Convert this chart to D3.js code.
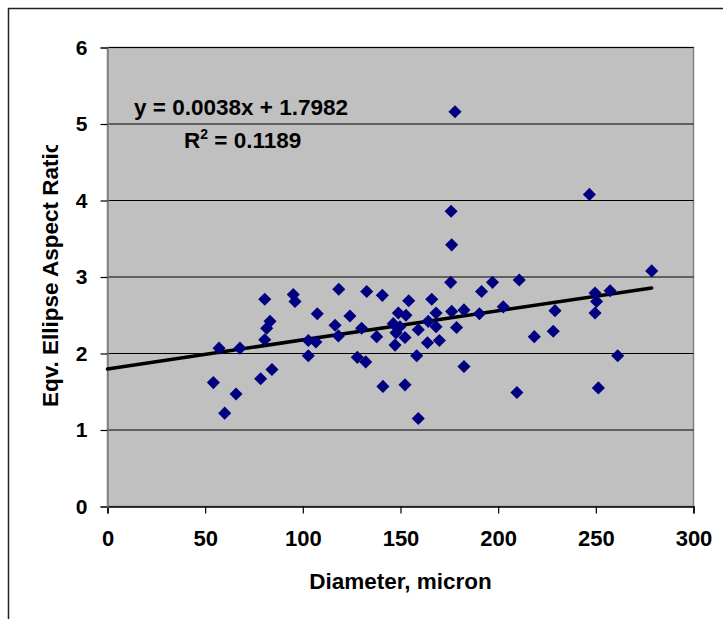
<!doctype html>
<html>
  <head>
    <meta charset="utf-8">
    <title>Aspect ratio vs diameter</title>
    <script src="https://cdnjs.cloudflare.com/ajax/libs/d3/7.8.5/d3.min.js"></script>
    <style>
      body { margin: 0; background: #fff; }
      text { font-family: "Liberation Sans", Arial, sans-serif; font-weight: bold; fill: #000; }
    </style>
  </head>
  <body>
    <div id="chart"></div>
    <script>
      // data
      const diameter = [54.2, 57.1, 60.0, 65.8, 67.8, 78.4, 80.5, 80.5, 81.5, 83.2,
                        84.2, 95.1, 96.0, 102.8, 102.8, 106.7, 107.4, 116.5, 118.2, 118.4,
                        124.1, 127.9, 130.1, 132.2, 132.7, 137.8, 141.0, 140.7, 148.9, 152.8,
                        146.3, 149.7, 147.7, 147.2, 152.3, 152.3, 154.2, 158.3, 159.1, 159.1,
                        163.8, 164.2, 166.0, 168.2, 168.2, 169.9, 175.7, 176.2, 178.7, 176.2,
                        175.9, 177.9, 182.5, 182.5, 190.4, 191.5, 197.1, 202.6, 209.6, 210.8,
                        218.5, 228.2, 229.1, 246.7, 249.6, 250.4, 249.6, 251.3, 257.3, 261.2,
                        278.6];
      const ratio = [1.62, 2.07, 1.22, 1.47, 2.07, 1.67, 2.71, 2.18, 2.33, 2.42,
                     1.79, 2.77, 2.68, 2.17, 1.97, 2.15, 2.52, 2.37, 2.23, 2.84,
                     2.49, 1.95, 2.33, 1.89, 2.81, 2.22, 1.57, 2.76, 2.53, 2.50,
                     2.39, 2.35, 2.27, 2.11, 2.21, 1.59, 2.69, 1.97, 1.15, 2.31,
                     2.14, 2.42, 2.71, 2.53, 2.35, 2.17, 2.93, 2.55, 2.34, 3.42,
                     3.86, 5.16, 2.57, 1.83, 2.52, 2.81, 2.93, 2.61, 1.49, 2.96,
                     2.22, 2.29, 2.56, 4.08, 2.79, 2.68, 2.53, 1.55, 2.82, 1.97,
                     3.08];
      const xTicks = [0, 50, 100, 150, 200, 250, 300];
      const yTicks = [0, 1, 2, 3, 4, 5, 6];
      const trendSlope = 0.0038, trendIntercept = 1.7982;
      const trendLabel = 'y = 0.0038x + 1.7982';
      const r2Value = '0.1189';

      const points = diameter.map((d, i) => ({x: d, y: ratio[i]}));

      const svg = d3.select('#chart').append('svg')
        .attr('width', 723)
        .attr('height', 619);

      // outer chart frame (cut off on the right and bottom)
      svg.append('path')
        .attr('d', 'M8.5,619 V8.5 H723')
        .attr('fill', 'none')
        .attr('stroke', '#222')
        .attr('stroke-width', 1.5);

      const x = d3.scaleLinear().domain([0, 300]).range([107.5, 693.5]);
      const y = d3.scaleLinear().domain([0, 6]).range([506.5, 47.5]);

      // plot area
      svg.append('rect')
        .attr('x', x(0)).attr('y', y(6))
        .attr('width', x(300) - x(0)).attr('height', y(0) - y(6))
        .attr('fill', '#c0c0c0')
        .attr('stroke', '#808080')
        .attr('stroke-width', 1.5);

      // gridlines
      svg.selectAll('.grid')
        .data(yTicks.filter(d => d > 0))
        .join('line')
        .attr('class', 'grid')
        .attr('x1', x(0)).attr('x2', x(300))
        .attr('y1', d => y(d)).attr('y2', d => y(d))
        .attr('stroke', '#000')
        .attr('stroke-width', 1.2);

      // axes
      const xAxis = svg.append('g')
        .attr('transform', `translate(0,${y(0)})`)
        .call(d3.axisBottom(x).tickValues(xTicks).tickSize(7).tickPadding(17));
      xAxis.select('.domain').attr('stroke', '#000').attr('stroke-width', 1.5);
      xAxis.selectAll('.tick line').attr('stroke', '#000').attr('stroke-width', 1.2);
      xAxis.selectAll('text').style('font-size', '22px').attr('fill', '#000');

      const yAxis = svg.append('g')
        .attr('transform', `translate(${x(0)},0)`)
        .call(d3.axisLeft(y).tickValues(yTicks).tickFormat(d3.format('d')).tickSize(7).tickPadding(13));
      yAxis.select('.domain').attr('stroke', '#808080').attr('stroke-width', 1.5);
      yAxis.selectAll('.tick line').attr('stroke', '#000').attr('stroke-width', 1.2);
      yAxis.selectAll('text').style('font-size', '21px').attr('fill', '#000');

      // linear trendline
      const xMax = d3.max(diameter);
      svg.append('line')
        .attr('x1', x(0)).attr('y1', y(trendIntercept))
        .attr('x2', x(xMax)).attr('y2', y(trendIntercept + trendSlope * xMax))
        .attr('stroke', '#000')
        .attr('stroke-width', 3.5)
        .attr('stroke-linecap', 'round');

      // diamonds
      svg.selectAll('.pt')
        .data(points)
        .join('path')
        .attr('class', 'pt')
        .attr('d', d3.symbol().type(d3.symbolSquare).size(86))
        .attr('transform', d => `translate(${x(d.x)},${y(d.y)}) rotate(45)`)
        .attr('fill', '#000080');

      // trendline equation
      svg.append('text')
        .attr('x', 134).attr('y', 115)
        .style('font-size', '22.5px')
        .text(trendLabel);

      const r2 = svg.append('text')
        .attr('x', 184).attr('y', 148)
        .style('font-size', '22.5px');
      r2.append('tspan').text('R');
      r2.append('tspan').attr('dy', -9).style('font-size', '14px').text('2');
      r2.append('tspan').attr('dy', 9).text(' = ' + r2Value);

      // axis titles
      svg.append('text')
        .attr('x', x(150)).attr('y', 589)
        .attr('text-anchor', 'middle')
        .style('font-size', '22.5px')
        .text('Diameter, micron');

      svg.append('clipPath').attr('id', 'yclip')
        .append('rect').attr('x', 0).attr('y', 145).attr('width', 100).attr('height', 474);

      svg.append('g').attr('clip-path', 'url(#yclip)')
        .append('text')
        .attr('transform', 'translate(57.5,407) rotate(-90)')
        .style('font-size', '22.5px')
        .text('Eqv. Ellipse Aspect Ratio');
    </script>
  </body>
</html>
